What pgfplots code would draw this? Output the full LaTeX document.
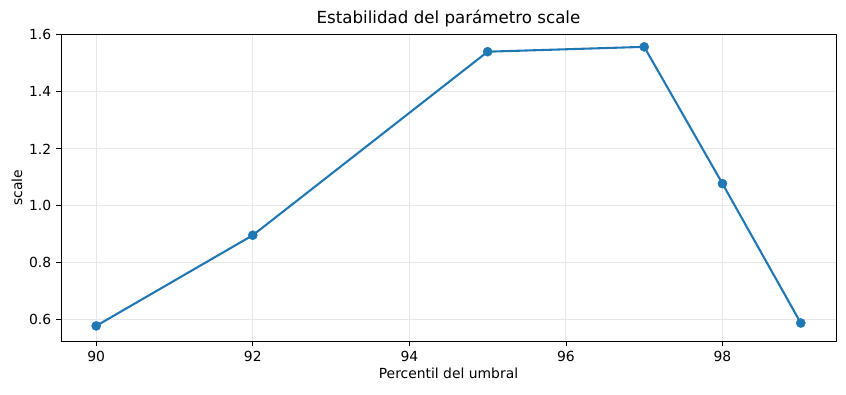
\documentclass[border=0pt]{standalone}
\usepackage{pgfplots}
\pgfplotsset{compat=1.18}
\usepackage{fontspec}
\setmainfont{DejaVu Sans}
\definecolor{mplblue}{HTML}{1F77B4}
\definecolor{gridc}{RGB}{231,231,231}
\begin{document}
\begin{tikzpicture}
\begin{axis}[
  at={(0,0)}, anchor=south west,
  scale only axis,
  width=558pt, height=221pt,
  xmin=89.55, xmax=99.45,
  ymin=0.526, ymax=1.603,
  xtick={90,92,94,96,98},
  ytick={0.6,0.8,1.0,1.2,1.4,1.6},
  /pgf/number format/assume math mode=true,
  yticklabel style={/pgf/number format/.cd, fixed, fixed zerofill, precision=1},
  xticklabel style={/pgf/number format/.cd, fixed, precision=0},
  tick align=outside,
  tick pos=left,
  major tick length=3.5pt,
  every tick/.style={black, line width=0.6pt},
  tick label style={font=\fontsize{10}{12}\selectfont},
  label style={font=\fontsize{10}{12}\selectfont},
  grid=major,
  grid style={gridc, line width=0.7pt},
  axis line style={black, line width=0.6pt},
  title={Estabilidad del parámetro scale},
  title style={font=\fontsize{12}{14}\selectfont, yshift=-4.5pt},
  xlabel={Percentil del umbral},
  ylabel={scale},
  xlabel style={yshift=2pt},
  ylabel style={yshift=-2pt},
]
\addplot[mplblue, line width=1.5pt, mark=*, mark options={solid, fill=mplblue, draw=mplblue, line width=0.3pt, mark size=3.3pt}]
coordinates {
(90,0.579)
(92,0.897)
(95,1.541)
(97,1.558)
(98,1.078)
(99,0.589)
};
\end{axis}
\pgfresetboundingbox
\useasboundingbox (-43.9pt,-38.2pt) rectangle (565.2pt,245.5pt);
\end{tikzpicture}
\end{document}
